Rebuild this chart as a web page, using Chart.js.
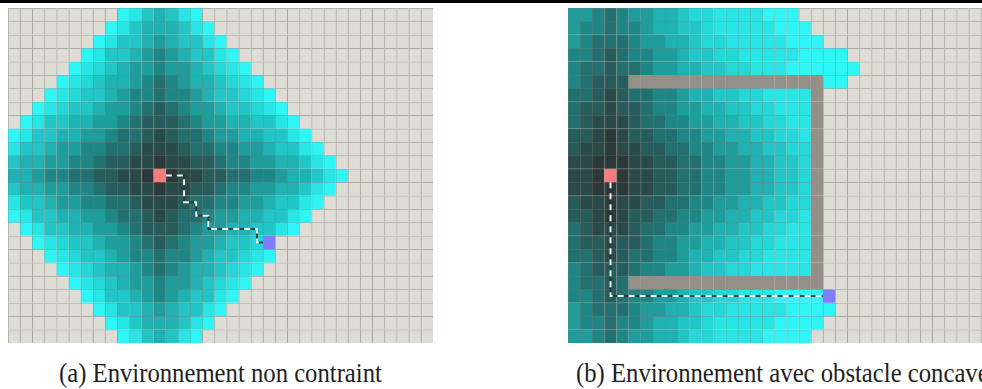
<!DOCTYPE html>
<html>
<head>
<meta charset="utf-8">
<script src="https://cdn.jsdelivr.net/npm/chart.js@4.4.1/dist/chart.umd.min.js"></script>
<style>
    html, body { margin: 0; padding: 0; background: #fff; }
    body { width: 982px; height: 389px; overflow: hidden; position: relative; }
    .topbar { position: absolute; left: 0; top: 0; width: 982px; height: 3px; background: #000; }
    .panel { position: absolute; top: 8px; }
    .panel canvas { display: block; }
    .caption {
        position: absolute; top: 362px;
        font-family: 'Liberation Serif', 'Times New Roman', serif;
        font-size: 24.7px; line-height: 1; color: #1e1e1e; white-space: nowrap;
        transform: scaleY(1.1); transform-origin: 0 20.7px;
    }
</style>
</head>
<body>
<div class="topbar"></div>
<div class="panel" style="left:8px"><canvas id="gridA" width="425" height="335"></canvas></div>
<div class="panel" style="left:568px"><canvas id="gridB" width="425" height="335"></canvas></div>
<div class="caption" style="left:59px">(a) Environnement non contraint</div>
<div class="caption" style="left:576px">(b) Environnement avec obstacle concave</div>
<script>
// Cell codes: '.' free, '#' obstacle, 'S' start, 'G' goal,
// '0'..'9' explored (0 = darkest, near the start), 'c' open frontier
const nCols = 35;
const nRows = 25;

const rowsA = [
    '.........c97679c',
    '........c9766679c',
    '.......c977656779c',
    '......c97765456779c',
    '.....c9876554556789c',
    '....c987665434566789c',
    '...c98776544344567789c',
    '..c9877655432345567789c',
    '.c977665543222345566779c',
    'c97766554332123345566779c',
    '9776554433211123344556779c',
    '76655443221101122344556679c',
    '665443322110S01122334456679c',
    '76655443221101122344556679c',
    '9776554433211123344556779c',
    'c97766554332123345566779c',
    '.c977665543222345566779c',
    '..c987765543234556778G',
    '...c98776544344567789c',
    '....c987665434566789c',
    '.....c9876554556789c',
    '......c97765456779c',
    '.......c977656779c',
    '........c9766679c',
    '.........c97679c'
];

const rowsB = [
    '5543455667889999ccc',
    '54434456677899999ccc',
    '543334556678899999ccc',
    '4432344556778899999cccc',
    '433233455667788999cccccc',
    '43222################cc',
    '33212334456677889999#',
    '32212234455667788999#',
    '32111233445566778899#',
    '22101223344556677889#',
    '21101122334455667788#',
    '11000112233445566778#',
    '110S0112233445566778#',
    '11000112233445566778#',
    '21101122334455667788#',
    '22101223344556677889#',
    '32111233445566778899#',
    '32212234455667788999#',
    '33212334456677889999#',
    '43222344556778899999#',
    '43323################',
    '44323445567788999ccccG',
    '543334556678899999cccc',
    '54434456677899999cccc',
    '5543455667889999cccc'
];

// Paths as [column, row] cells
const pathA = [[12, 12], [14, 12], [14, 14], [15, 14], [15, 15], [16, 15], [16, 16], [20, 16], [20, 17], [21, 17]];
const pathB = [[3, 12], [3, 21], [21, 21]];

// Colours
const shade = ['#2c3939', '#2a4a4a', '#265c5c', '#227070', '#1f8686',
               '#1f9c9c', '#20b2b2', '#22c6c6', '#25d8d8', '#29e6e6'];
const fixedColors = { '.': '#dddcd5', '#': '#948f87', 'S': '#f87d7d', 'G': '#7f7dff', 'c': '#2ef6f6' };
const gridGray = '#7a786f';

function cellColor(ch) {
    return fixedColors[ch] || shade[Number(ch)];
}

function mix(a, b, t) {
    const pa = parseInt(a.slice(1), 16);
    const pb = parseInt(b.slice(1), 16);
    const ch = shift => Math.round(((pa >> shift) & 255) * (1 - t) + ((pb >> shift) & 255) * t);
    return 'rgb(' + ch(16) + ',' + ch(8) + ',' + ch(0) + ')';
}

function lineColor(ch) {
    if (ch === '#' || ch === 'S' || ch === 'G') return cellColor(ch);
    return mix(cellColor(ch), gridGray, ch === '.' ? 0.55 : 0.4);
}

// cell centres, with both ends pulled back to the edge of the start / goal cell
function pathPoints(path) {
    const pts = path.map(p => ({ x: p[0] + 0.5, y: p[1] + 0.5 }));
    const toward = (a, b) => ({ x: a.x + 0.5 * Math.sign(b.x - a.x), y: a.y + 0.5 * Math.sign(b.y - a.y) });
    const n = pts.length;
    const first = toward(pts[0], pts[1]);
    const last = toward(pts[n - 1], pts[n - 2]);
    pts[0] = first;
    pts[n - 1] = last;
    return pts;
}

// lower "order" is painted later, i.e. on top
function pathDataset(path, color, dash, order) {
    return {
        type: 'line',
        order: order,
        data: pathPoints(path),
        xAxisID: 'x',
        yAxisID: 'yp',
        borderColor: color,
        borderWidth: 2,
        borderDash: dash,
        pointRadius: 0,
        pointHoverRadius: 0,
        pointHitRadius: 0,
        fill: false,
        tension: 0
    };
}

function buildGrid(canvasId, rows, path) {
    const canvas = document.getElementById(canvasId);
    const cellWidth = canvas.width / nCols;

    const datasets = rows.map((raw, r) => {
        const cells = raw.padEnd(nCols, '.').split('');
        return {
            type: 'bar',
            order: 10,
            label: 'row ' + r,
            data: cells.map((ch, c) => ({ x: c + 0.5, y: 1 })),
            backgroundColor: cells.map(cellColor),
            borderColor: cells.map(lineColor),
            borderWidth: { top: 1, left: 1, right: 0, bottom: 0 },
            borderSkipped: false,
            inflateAmount: 0.3,
            barThickness: cellWidth,
            xAxisID: 'x',
            yAxisID: 'y'
        };
    });
    datasets.push(pathDataset(path, 'rgba(40,52,52,0.85)', [], 2));
    datasets.push(pathDataset(path, '#eef6f6', [6, 5], 1));

    new Chart(canvas, {
        type: 'bar',
        data: { datasets: datasets },
        options: {
            responsive: false,
            animation: false,
            devicePixelRatio: 1,
            layout: { padding: 0, autoPadding: false },
            plugins: { legend: { display: false }, tooltip: { enabled: false } },
            scales: {
                x: { type: 'linear', display: false, stacked: true, offset: false, min: 0, max: nCols },
                y: { type: 'linear', display: false, stacked: true, reverse: true, offset: false, min: 0, max: nRows },
                yp: { type: 'linear', axis: 'y', display: false, reverse: true, offset: false, min: 0, max: nRows }
            }
        }
    });
}

buildGrid('gridA', rowsA, pathA);
buildGrid('gridB', rowsB, pathB);
</script>
</body>
</html>
